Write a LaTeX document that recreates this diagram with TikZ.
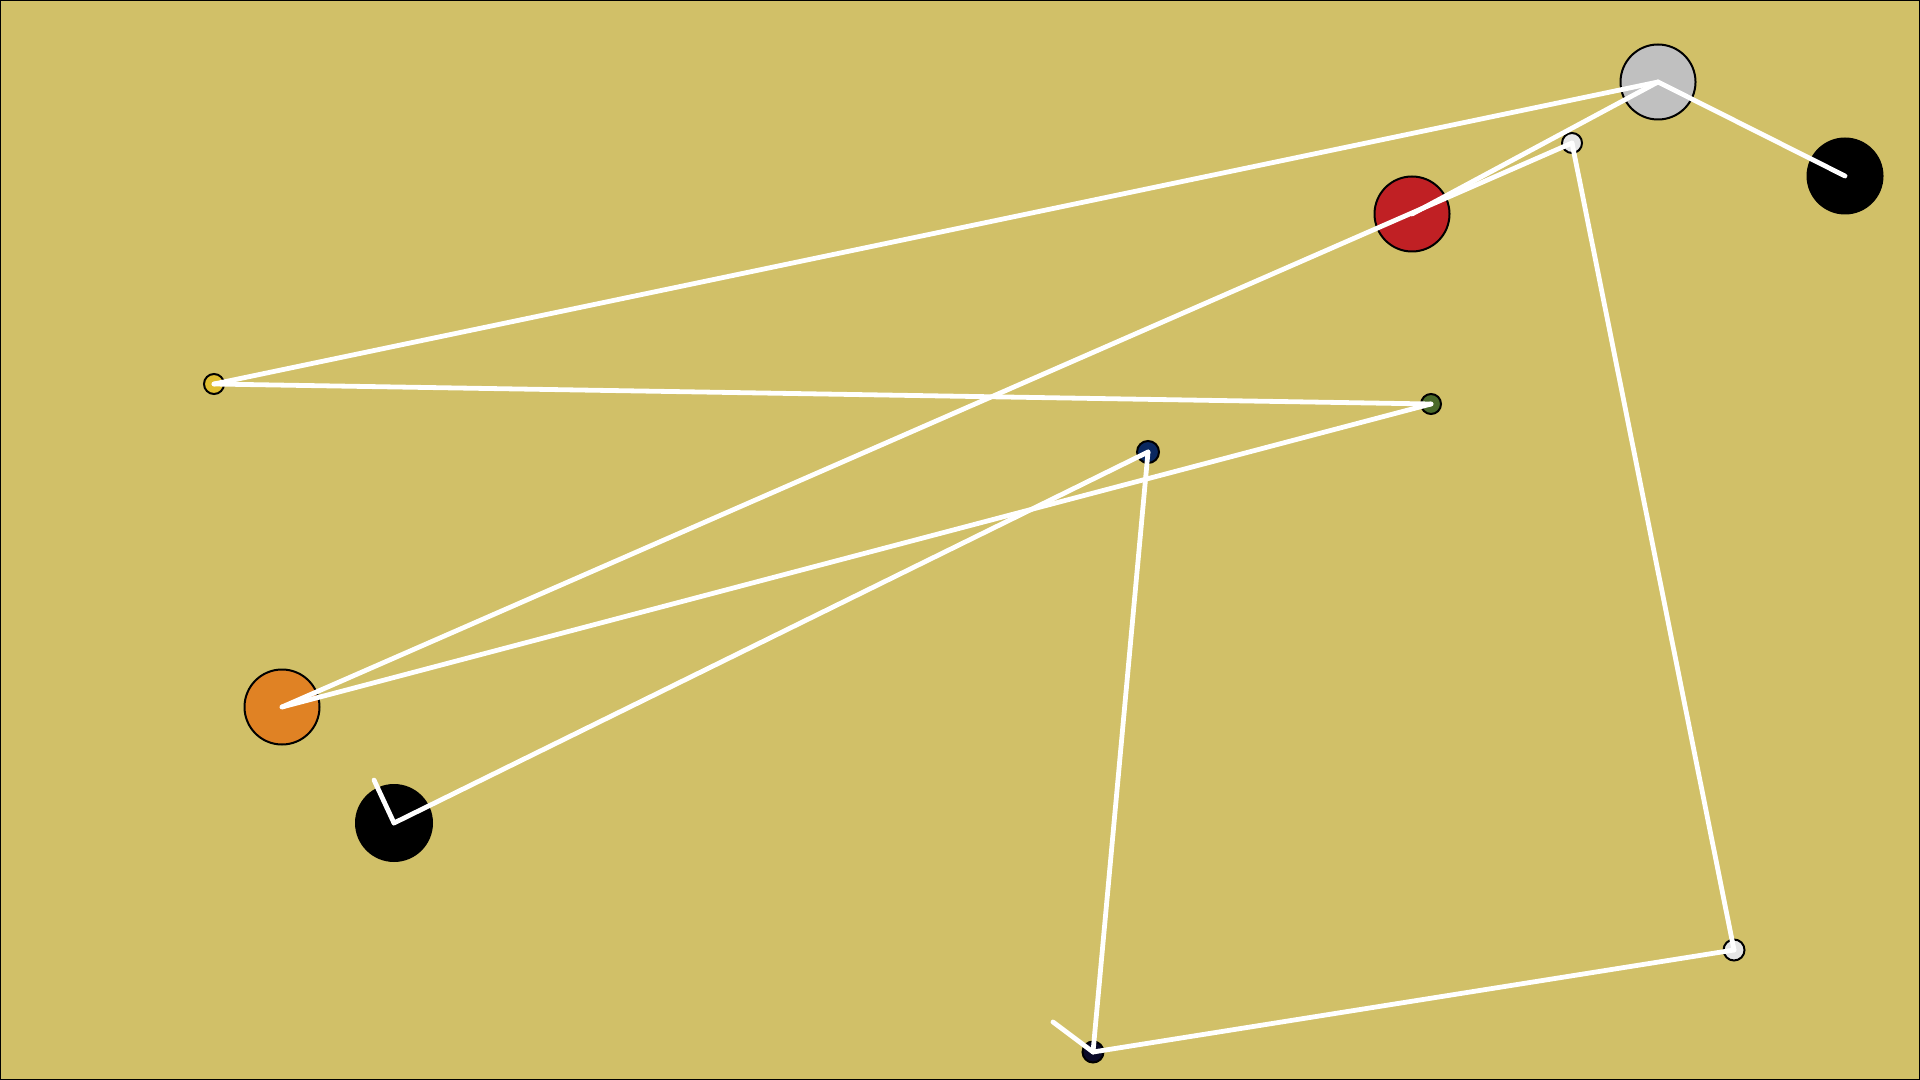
\documentclass[tikz,border=0pt]{standalone}
\definecolor{bgc}{RGB}{209,192,104}
\definecolor{greyc}{RGB}{192,192,192}
\definecolor{redc}{RGB}{192,32,36}
\definecolor{orangec}{RGB}{224,130,36}
\definecolor{yellowc}{RGB}{224,190,48}
\definecolor{greenc}{RGB}{74,106,42}
\definecolor{navyc}{RGB}{10,40,96}
\definecolor{darkc}{RGB}{10,10,40}
\definecolor{whitec}{RGB}{230,230,230}
\tikzset{
  dot/.style={circle, draw=black, line width=1pt, inner sep=0pt},
  big/.style={dot, minimum size=37.5pt},
  small/.style={dot, minimum size=10pt},
  link/.style={draw=white, line width=2.4pt, line cap=round}
}
\begin{document}
\begin{tikzpicture}[x=0.5pt,y=-0.5pt]
\useasboundingbox (0,0) rectangle (1920,1080);
\fill[bgc] (0,0) rectangle (1920,1080);
\draw[black, line width=1.2pt] (0,0) rectangle (1920,1080);
\node[big, fill=greyc] (grey) at (1658,82) {};
\node[big, fill=black] (blackTR) at (1845,176) {};
\node[small, fill=whitec] (white1) at (1572,143) {};
\node[big, fill=redc] (red) at (1412,214) {};
\node[small, fill=yellowc] (yellow) at (214,384) {};
\node[small, fill=greenc] (green) at (1431,404) {};
\node[small, fill=navyc, minimum size=11pt] (navy) at (1148,452) {};
\node[big, fill=orangec] (orange) at (282,707) {};
\node[big, fill=black, minimum size=38pt] (blackLL) at (394,823) {};
\node[small, fill=darkc, minimum size=10.5pt] (dark) at (1093,1052) {};
\node[small, fill=whitec, minimum size=10.5pt] (white2) at (1734,950) {};
\coordinate (stubA) at (374,780);
\coordinate (stubB) at (1053,1022);
\draw[link] (grey.center) -- (blackTR.center);
\draw[link] (grey.center) -- (yellow.center);
\draw[link] (grey.center) -- (red.center);
\draw[link] (white1.center) -- (orange.center);
\draw[link] (yellow.center) -- (green.center);
\draw[link] (green.center) -- (orange.center);
\draw[link] (navy.center) -- (blackLL.center);
\draw[link] (navy.center) -- (dark.center);
\draw[link] (dark.center) -- (white2.center);
\draw[link] (white2.center) -- (white1.center);
\draw[link] (blackLL.center) -- (stubA);
\draw[link] (dark.center) -- (stubB);
\end{tikzpicture}
\end{document}
